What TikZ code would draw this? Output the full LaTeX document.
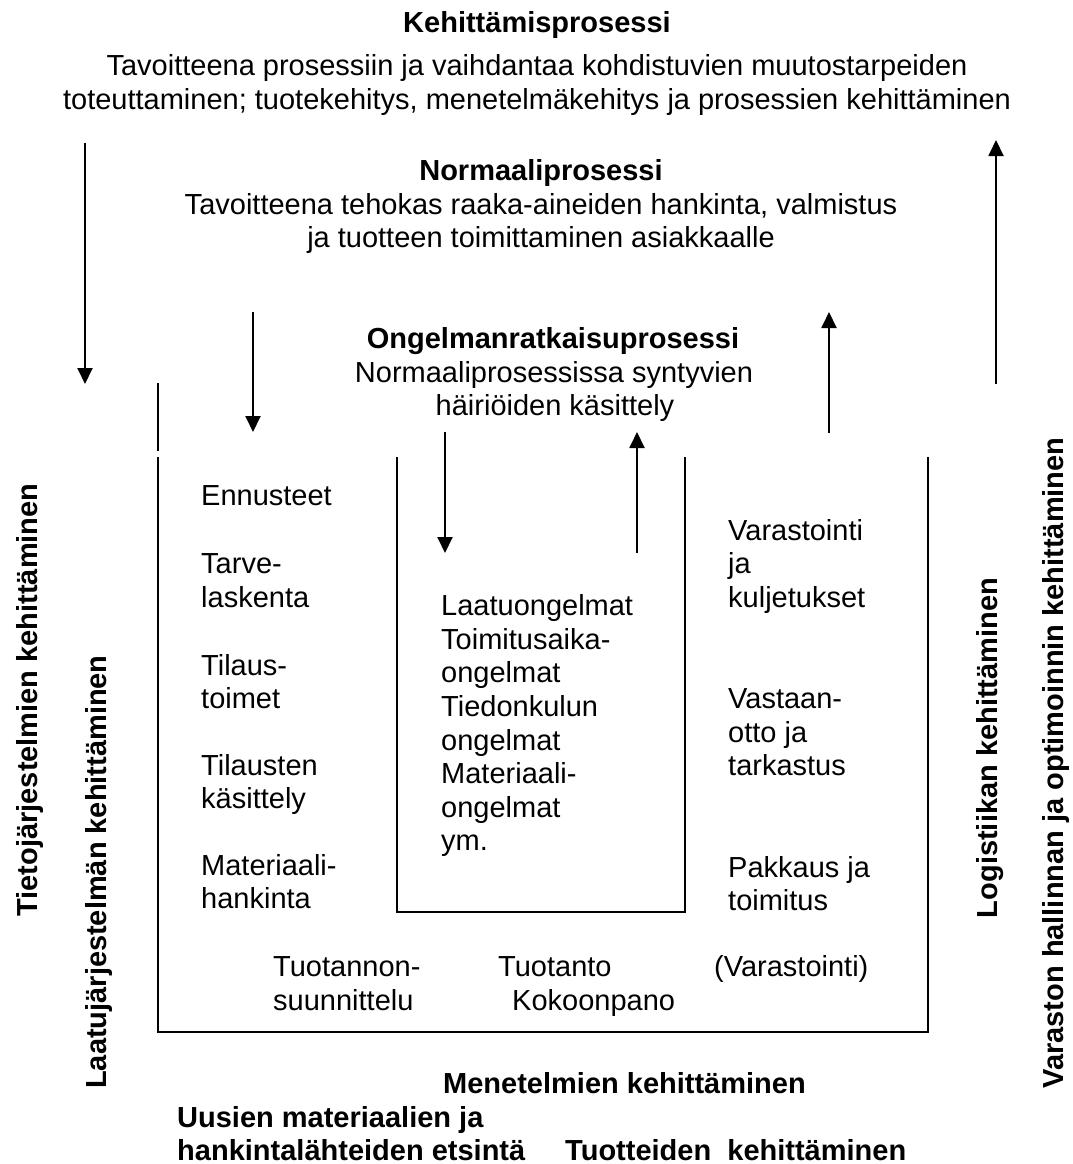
\documentclass[tikz,border=0pt]{standalone}
\usepackage{fontspec}
\setmainfont{Liberation Sans}
\usetikzlibrary{arrows.meta}
\begin{document}
\begin{tikzpicture}[x=1pt,y=-1pt,
  txt/.style={inner sep=0pt, font=\fontsize{29}{33.6}\selectfont},
  bld/.style={inner sep=0pt, font=\bfseries\fontsize{29}{33.6}\selectfont},
  lft/.style={txt, anchor=base west},
  ctr/.style={txt, anchor=base},
  ln/.style={line width=1.9pt, line cap=butt},
  arr/.style={ln, -{Triangle[length=16pt,width=15pt]}}]
\useasboundingbox[fill=white] (0,0) rectangle (1072,1164);

% ---- top texts
\node[bld, anchor=base] (kp) at (537,33) {Kehittämisprosessi};
\node[ctr] (kp1) at (537,75) {Tavoitteena prosessiin ja vaihdantaa kohdistuvien muutostarpeiden};
\node[ctr] (kp2) at (537,109) {toteuttaminen; tuotekehitys, menetelmäkehitys ja prosessien kehittäminen};

\node[bld, anchor=base] (np) at (541,180) {Normaaliprosessi};
\node[ctr] (np1) at (541,214) {Tavoitteena tehokas raaka-aineiden hankinta, valmistus};
\node[ctr] (np2) at (541,247) {ja tuotteen toimittaminen asiakkaalle};

\node[bld, anchor=base] (op) at (553,348) {Ongelmanratkaisuprosessi};
\node[ctr] (op1) at (554,382) {Normaaliprosessissa syntyvien};
\node[ctr] (op2) at (555,415) {häiriöiden käsittely};

% ---- arrows
\coordinate (a1s) at (85,143);  \coordinate (a1e) at (85,384);
\coordinate (a2s) at (253,312); \coordinate (a2e) at (253,432);
\coordinate (a3s) at (445,432); \coordinate (a3e) at (445,553);
\coordinate (a4s) at (637,553); \coordinate (a4e) at (637,432);
\coordinate (a5s) at (829,433); \coordinate (a5e) at (829,312);
\coordinate (a6s) at (996,384); \coordinate (a6e) at (996,140);
\draw[arr] (a1s) -- (a1e);
\draw[arr] (a2s) -- (a2e);
\draw[arr] (a3s) -- (a3e);
\draw[arr] (a4s) -- (a4e);
\draw[arr] (a5s) -- (a5e);
\draw[arr] (a6s) -- (a6e);

% ---- outer U
\coordinate (oLa) at (158,383);
\coordinate (oLb) at (158,451);
\coordinate (oLc) at (158,457);
\coordinate (oBL) at (158,1032);
\coordinate (oBR) at (928,1032);
\coordinate (oRT) at (928,457);
\draw[ln] (oLa) -- (oLb);
\draw[ln, line join=miter] (oLc) -- (oBL) -- (oBR) -- (oRT);

% ---- inner U
\coordinate (iLT) at (397,457);
\coordinate (iLB) at (397,912);
\coordinate (iRB) at (685,912);
\coordinate (iRT) at (685,457);
\draw[ln, line join=miter] (iLT) -- (iLB) -- (iRB) -- (iRT);

% ---- left column
\node[lft] (l1) at (201,505) {Ennusteet};
\node[lft] (l2) at (201,573) {Tarve-};
\node[lft] (l3) at (201,607) {laskenta};
\node[lft] (l4) at (201,675) {Tilaus-};
\node[lft] (l5) at (201,708) {toimet};
\node[lft] (l6) at (201,775) {Tilausten};
\node[lft] (l7) at (201,808) {käsittely};
\node[lft] (l8) at (201,875) {Materiaali-};
\node[lft] (l9) at (201,908) {hankinta};

% ---- inner column
\node[lft] (m1) at (441,615) {Laatuongelmat};
\node[lft] (m2) at (441,649) {Toimitusaika-};
\node[lft] (m3) at (441,682) {ongelmat};
\node[lft] (m4) at (441,716) {Tiedonkulun};
\node[lft] (m5) at (441,750) {ongelmat};
\node[lft] (m6) at (441,783) {Materiaali-};
\node[lft] (m7) at (441,817) {ongelmat};
\node[lft] (m8) at (441,850) {ym.};

% ---- right column
\node[lft] (r1) at (728,540) {Varastointi};
\node[lft] (r2) at (728,573) {ja};
\node[lft] (r3) at (728,607) {kuljetukset};
\node[lft] (r4) at (728,708) {Vastaan-};
\node[lft] (r5) at (728,742) {otto ja};
\node[lft] (r6) at (728,775) {tarkastus};
\node[lft] (r7) at (728,877) {Pakkaus ja};
\node[lft] (r8) at (728,910) {toimitus};

% ---- bottom row inside box
\node[lft] (b1) at (273,976) {Tuotannon-};
\node[lft] (b2) at (273,1010) {suunnittelu};
\node[lft] (b3) at (498,976) {Tuotanto};
\node[lft] (b4) at (512,1010) {Kokoonpano};
\node[lft] (b5) at (714,976) {(Varastointi)};

% ---- bottom bold texts
\node[bld, anchor=base west] (d1) at (443,1093) {Menetelmien kehittäminen};
\node[bld, anchor=base west] (d2) at (177,1127) {Uusien materiaalien ja};
\node[bld, anchor=base west] (d3) at (177,1160) {hankintalähteiden etsintä};
\node[bld, anchor=base west] (d4) at (565,1160) {Tuotteiden\ \ kehittäminen};

% ---- vertical bold texts
\node[bld, rotate=90] (v1) at (30,700) {Tietojärjestelmien kehittäminen};
\node[bld, rotate=90] (v2) at (99,872) {Laatujärjestelmän kehittäminen};
\node[bld, rotate=90] (v3) at (990,748) {Logistiikan kehittäminen};
\node[bld, rotate=90] (v4) at (1056,763) {Varaston hallinnan ja optimoinnin kehittäminen};
\end{tikzpicture}
\end{document}
